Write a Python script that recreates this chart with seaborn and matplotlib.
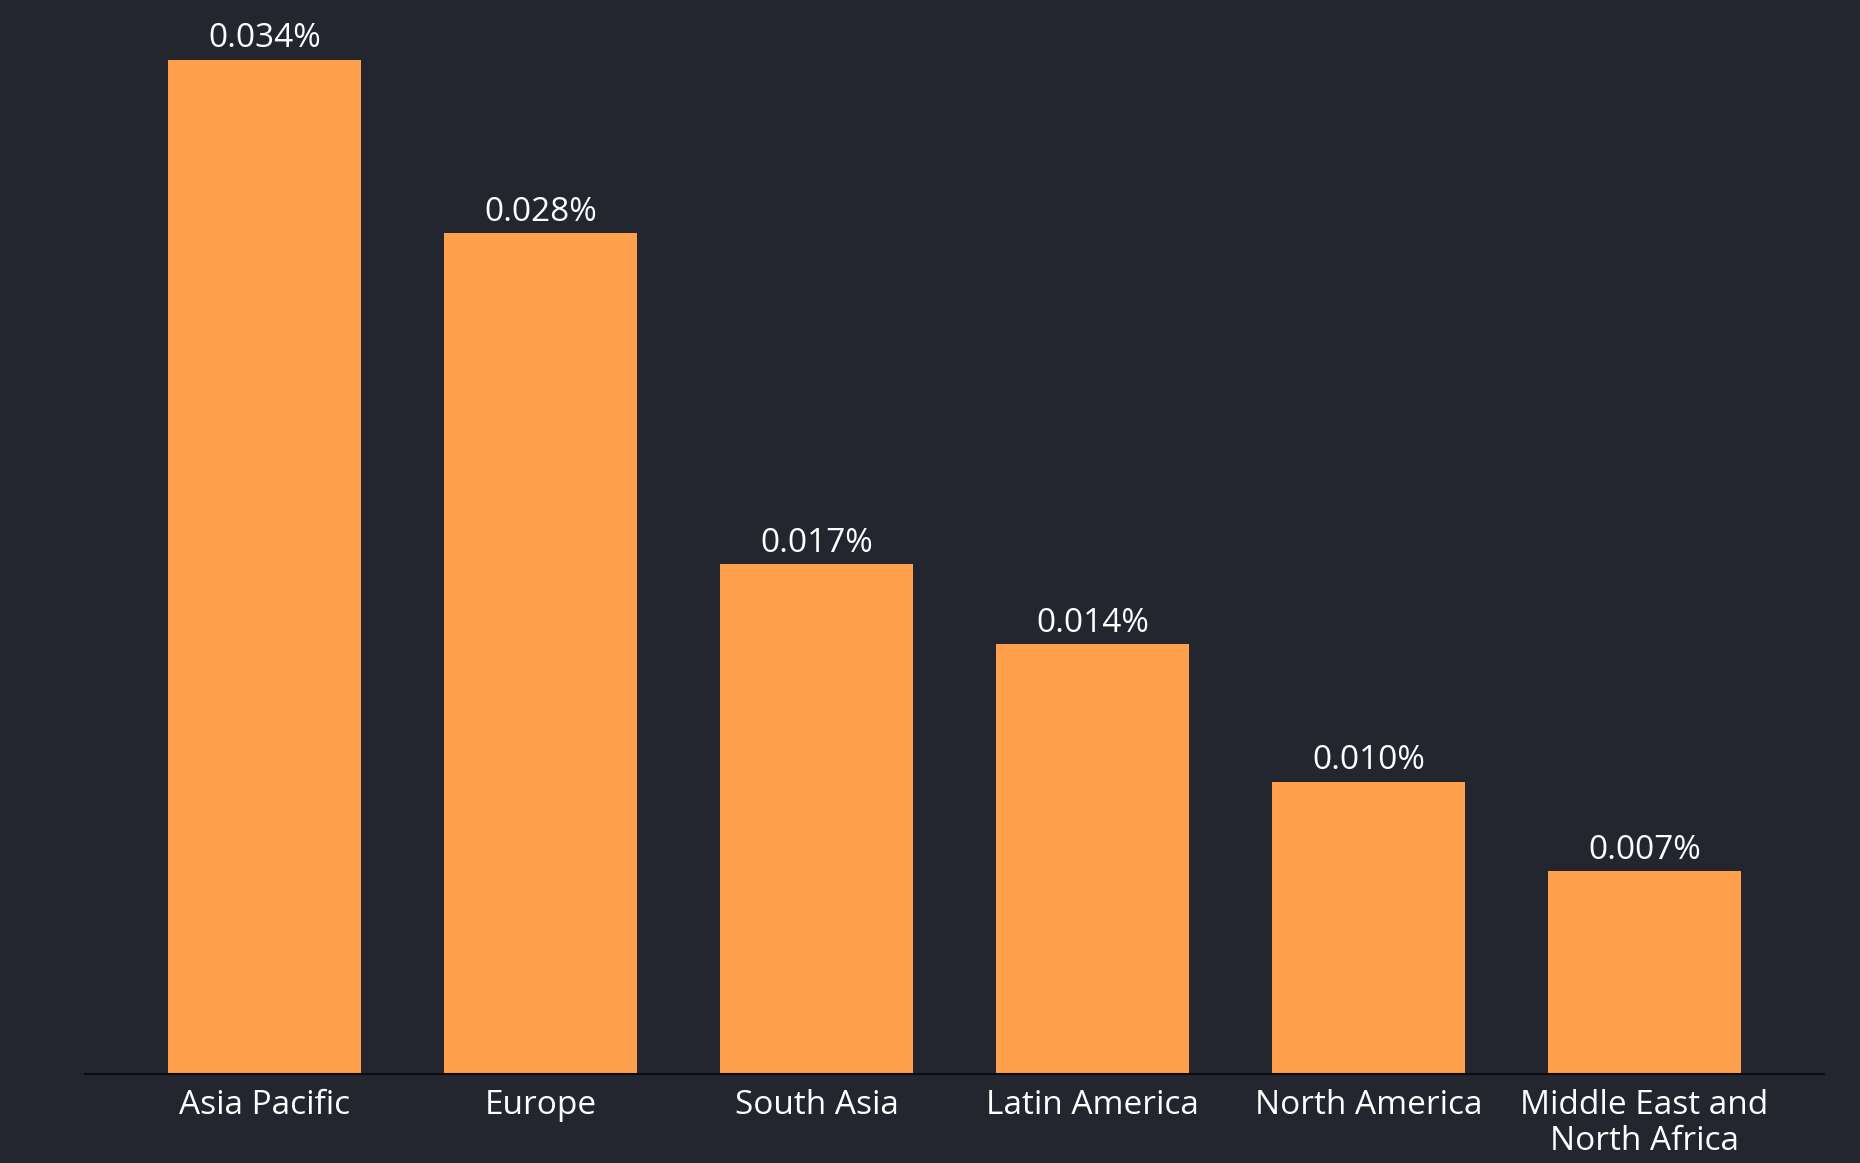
import matplotlib
matplotlib.use("Agg")
import matplotlib.pyplot as plt
import seaborn as sns
import pandas as pd

# Data
regions = ['Asia Pacific', 'Europe', 'South Asia', 'Latin America',
           'North America', 'Middle East and\nNorth Africa']
shares = [0.0340, 0.0282, 0.0171, 0.0144, 0.0098, 0.0068]
labels = ['0.034%', '0.028%', '0.017%', '0.014%', '0.010%', '0.007%']

bg = '#23252f'
bar_color = '#ffa04c'

sns.set_style('dark')
plt.rcParams['font.family'] = ['Open Sans', 'DejaVu Sans']

df = pd.DataFrame({'region': regions, 'share': shares})

fig = plt.figure(figsize=(18.6, 11.63), dpi=100)
fig.patch.set_facecolor(bg)
ax = fig.add_axes([85 / 1860, 89 / 1163, 1739 / 1860, 1074 / 1163])
ax.set_facecolor(bg)

sns.barplot(data=df, x='region', y='share', color=bar_color, width=0.70,
            saturation=1, linewidth=0, ax=ax)

for i, (v, lab) in enumerate(zip(shares, labels)):
    ax.annotate(lab, (i, v), xytext=(0, 3), textcoords='offset points',
                ha='center', va='bottom', color='white', fontsize=24)

ax.set_xlim(-0.651, 5.650)
ax.set_ylim(0, 0.036)
ax.set_yticks([])
ax.set_xlabel('')
ax.set_ylabel('')
ax.grid(False)
for s in ['top', 'right', 'left']:
    ax.spines[s].set_visible(False)
ax.spines['bottom'].set_color('#0c0c10')
ax.spines['bottom'].set_linewidth(1.5)
ax.tick_params(axis='x', length=0, pad=11, labelsize=24, labelcolor='white')
for t in ax.get_xticklabels():
    t.set_linespacing(1.1)

fig.savefig('out.png', dpi=100, facecolor=bg)
